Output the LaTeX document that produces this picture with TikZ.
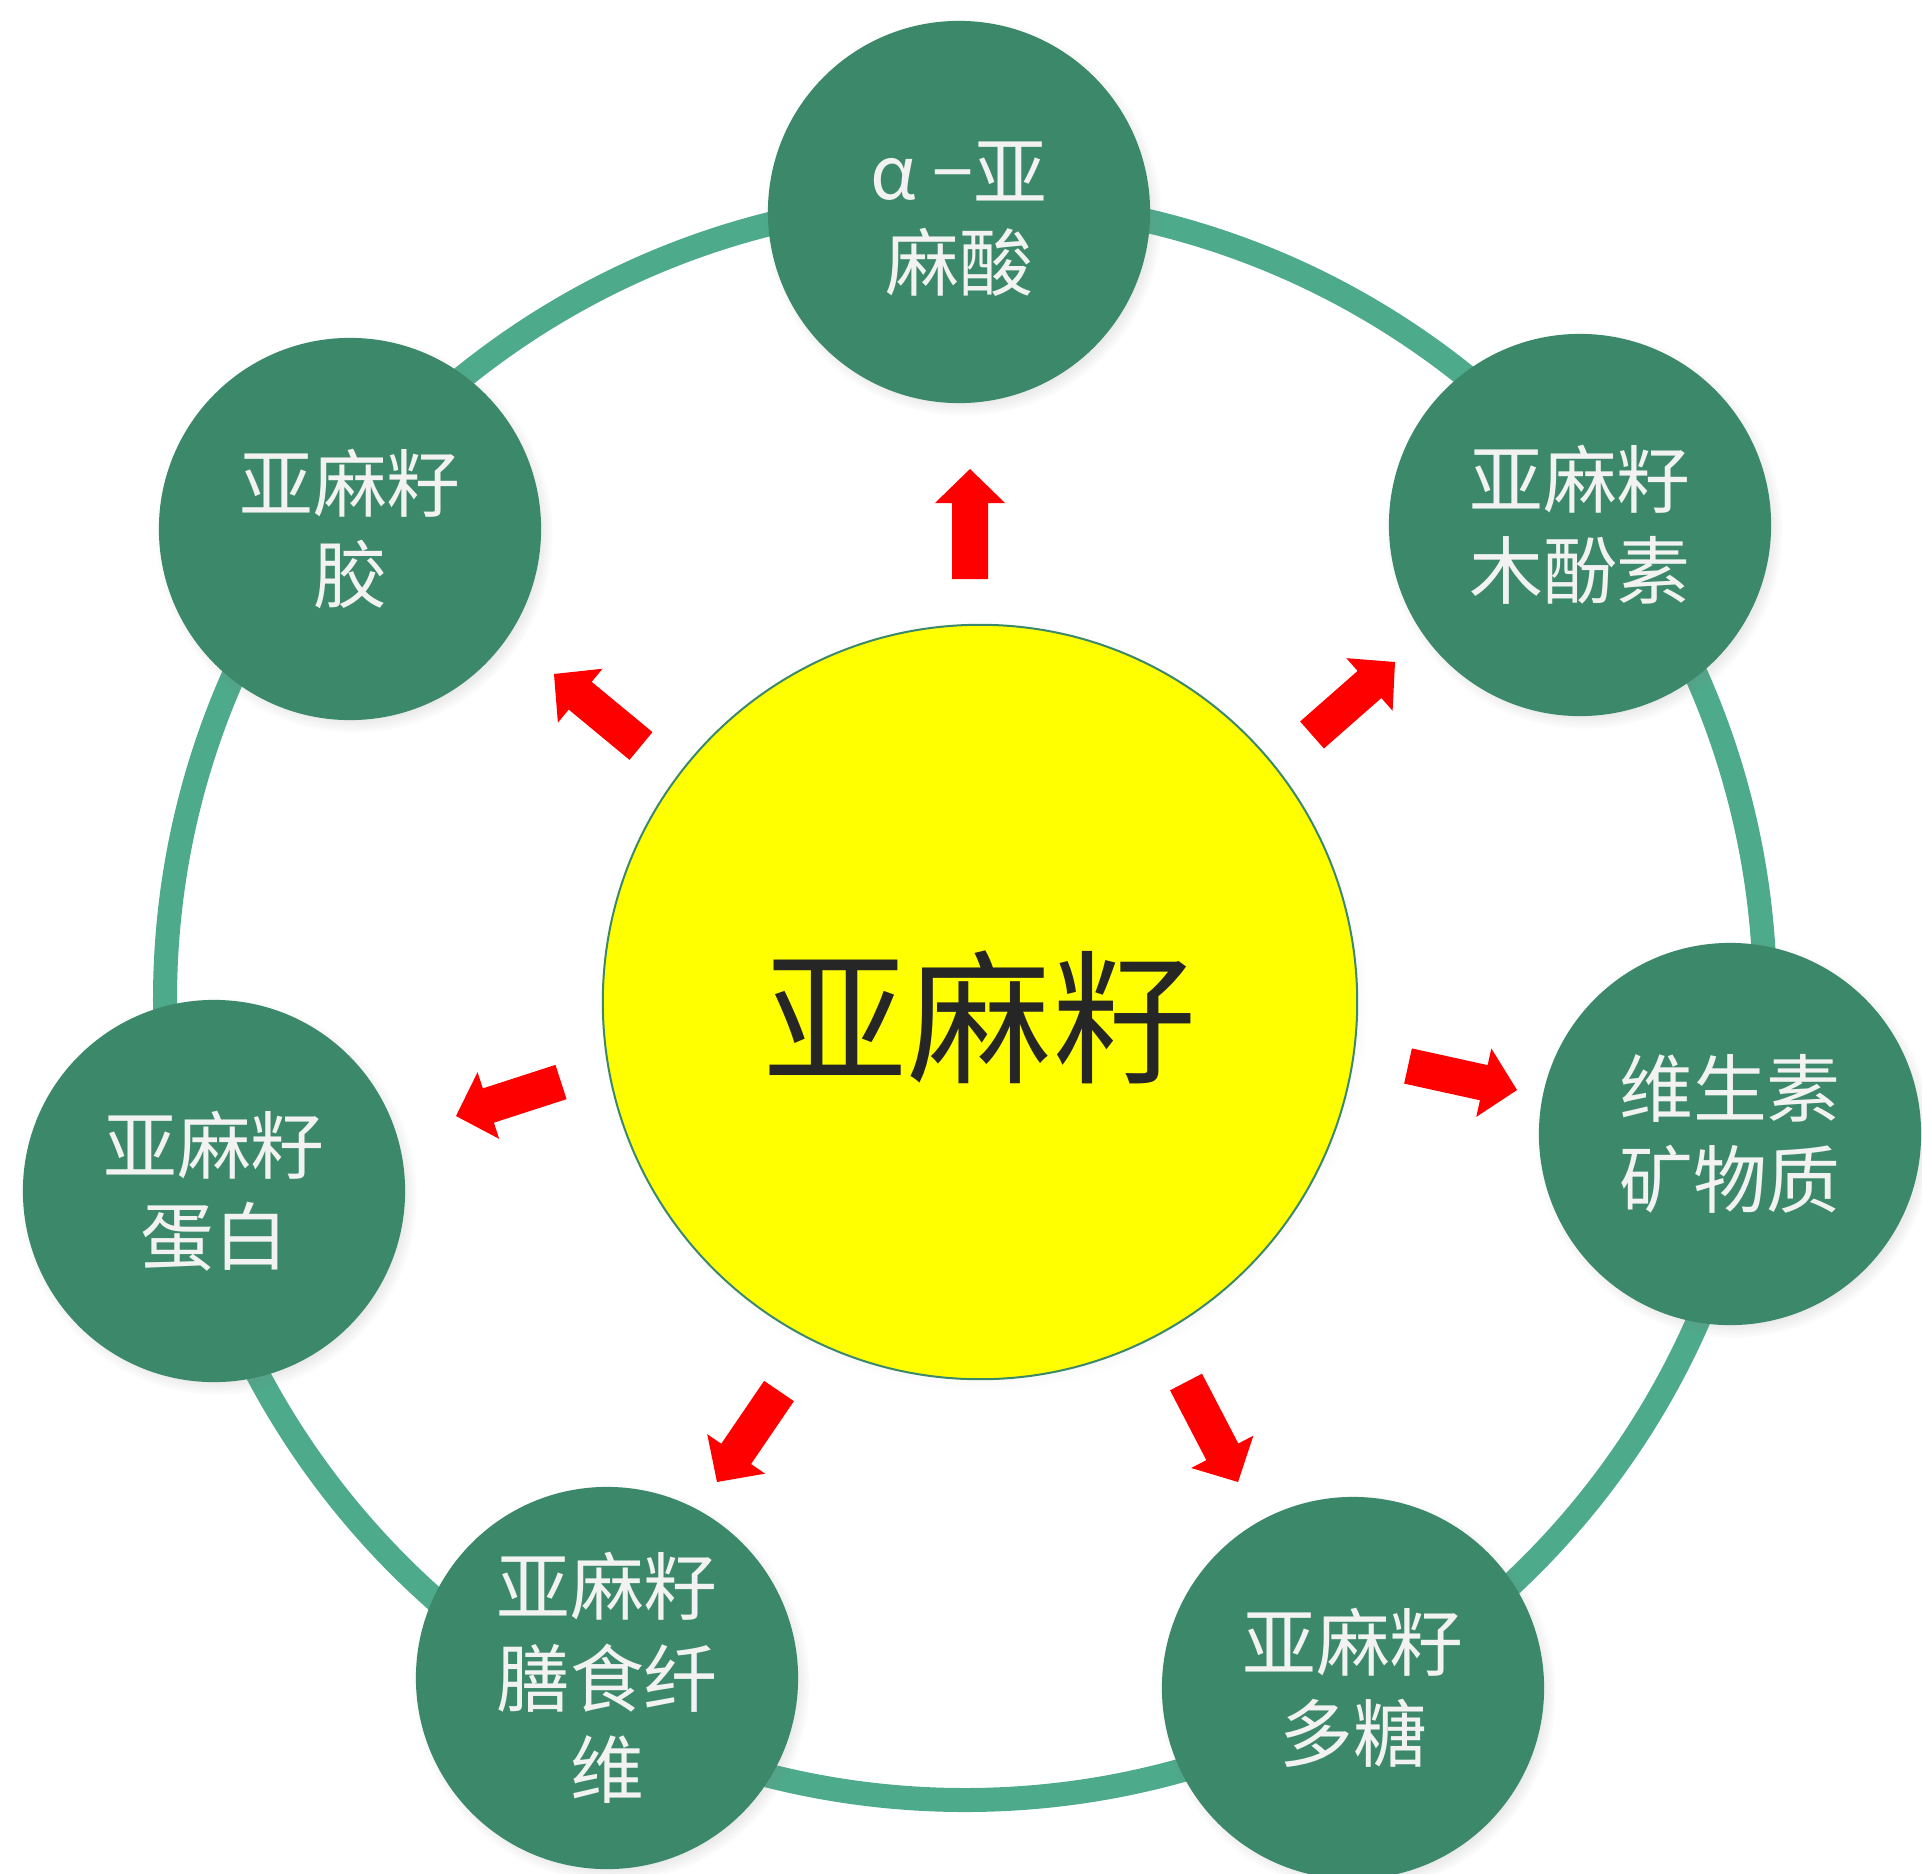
\documentclass[tikz,border=0pt]{standalone}
\usepackage{fontspec}
\newfontfamily\cjk{Noto Sans CJK SC}
\usetikzlibrary{calc,shadows}
\definecolor{leaf}{HTML}{3B896A}
\definecolor{ringgreen}{HTML}{4DAA8A}
\definecolor{textwhite}{HTML}{F2F2F2}
\definecolor{ink}{HTML}{262626}
\definecolor{sun}{RGB}{255,255,0}
\definecolor{arrowred}{RGB}{255,0,0}
\newcommand{\fatarrow}[2]{%
  \path ($(#2)!0.34cm!(#1)$) coordinate (hb);
  \fill[arrowred] ($(#1)!0.18cm!90:(#2)$) -- ($(hb)!0.18cm!90:(#2)$) -- ($(hb)!0.35cm!90:(#2)$) -- (#2)
    -- ($(hb)!0.35cm!-90:(#2)$) -- ($(hb)!0.18cm!-90:(#2)$) -- ($(#1)!0.18cm!-90:(#2)$) -- cycle;}

\begin{document}
\begin{tikzpicture}[x=0.01cm,y=-0.01cm,
  bubble/.style={circle,fill=leaf,minimum size=3.82cm,inner sep=0pt,align=center,
    text=textwhite,font=\cjk\fontsize{21pt}{26pt}\selectfont,
    circular drop shadow={shadow xshift=0.04cm,shadow yshift=-0.05cm,shadow scale=1.04,opacity=0.35}},
  seed/.style={circle,fill=sun,draw=leaf,line width=0.02cm,minimum size=7.54cm,inner sep=0pt,
    text=ink,font=\cjk\fontsize{41pt}{48pt}\selectfont,
    circular drop shadow={shadow xshift=0.03cm,shadow yshift=-0.04cm,shadow scale=1.02,opacity=0.2}}]
\useasboundingbox (0,0) rectangle (1922,1873);
\draw[ringgreen,line width=0.24cm] (965,1000) circle (800);

\node[bubble] (ala) at (959,212) {\raisebox{-0.07cm}[\height][\depth]{α −亚}\\\raisebox{-0.07cm}[\height][\depth]{麻酸}};
\node[bubble] (lig) at (1580,525) {亚麻籽\\木酚素};
\node[bubble] (vit) at (1730,1134) {维生素\\矿物质};
\node[bubble] (poly) at (1353,1688) {亚麻籽\\多糖};
\node[bubble] (fib) at (607,1678) {亚麻籽\\膳食纤\\维};
\node[bubble] (prot) at (214,1191) {亚麻籽\\蛋白};
\node[bubble] (gum) at (350,529) {亚麻籽\\胶};
\node[seed] (seed) at (980,1002) {\raisebox{-0.15cm}[\height][\depth]{亚麻籽}};

\coordinate (ala-s) at (970,579);   \coordinate (ala-e) at (970,469);
\coordinate (lig-s) at (1312,735);  \coordinate (lig-e) at (1395,662);
\coordinate (vit-s) at (1408,1066); \coordinate (vit-e) at (1517,1090);
\coordinate (poly-s) at (1186,1382);\coordinate (poly-e) at (1238,1482);
\coordinate (fib-s) at (779,1391);  \coordinate (fib-e) at (717,1482);
\coordinate (prot-s) at (561,1082); \coordinate (prot-e) at (456,1116);
\coordinate (gum-s) at (641,746);   \coordinate (gum-e) at (554,674);

\fatarrow{ala-s}{ala-e}
\fatarrow{lig-s}{lig-e}
\fatarrow{vit-s}{vit-e}
\fatarrow{poly-s}{poly-e}
\fatarrow{fib-s}{fib-e}
\fatarrow{prot-s}{prot-e}
\fatarrow{gum-s}{gum-e}
\end{tikzpicture}
\end{document}
